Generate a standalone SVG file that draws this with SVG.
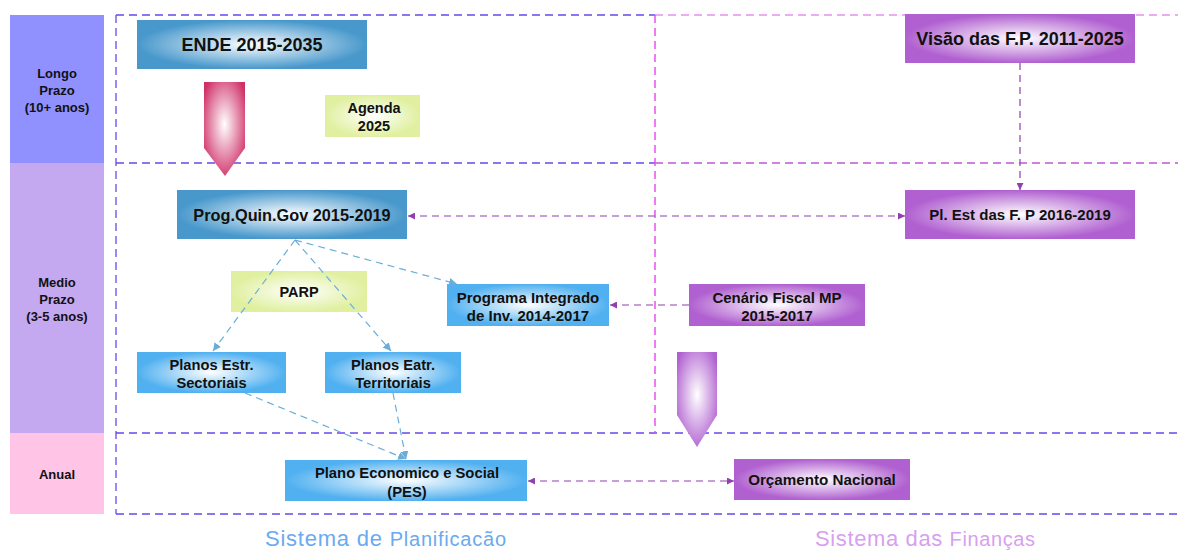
<svg xmlns="http://www.w3.org/2000/svg" width="1179" height="551" viewBox="0 0 1179 551">
<style>
.lbl{font-family:"Liberation Sans",Arial,sans-serif;font-weight:bold;fill:#111;text-anchor:middle}
.frame{fill:none;stroke:#6a48e8;stroke-width:1.3;stroke-dasharray:8 5}
.frameP{fill:none;stroke:#e890f0;stroke-width:1.3;stroke-dasharray:8 5}
.frameM{fill:none;stroke:#c058d8;stroke-width:1.3;stroke-dasharray:8 5}
.frameV{fill:none;stroke:#e850f0;stroke-width:1.5;stroke-dasharray:8 5}
.cb{fill:none;stroke:#6aaed8;stroke-width:1.2;stroke-dasharray:7 5}
.cp{fill:none;stroke:#9040b0;stroke-width:1.2;stroke-dasharray:7 5}
.cap{font-family:"Liberation Sans",Arial,sans-serif}
</style>
<defs>
<radialGradient id="gBlueD" cx="0.5" cy="0.5" r="0.5"><stop offset="0" stop-color="#ffffff"/><stop offset="1" stop-color="#4898cc"/></radialGradient>
<radialGradient id="gBlueL" cx="0.5" cy="0.5" r="0.5"><stop offset="0" stop-color="#ffffff"/><stop offset="1" stop-color="#50b0f0"/></radialGradient>
<radialGradient id="gPur" cx="0.5" cy="0.5" r="0.5"><stop offset="0" stop-color="#ffffff"/><stop offset="1" stop-color="#b060d0"/></radialGradient>
<radialGradient id="gGreen" cx="0.5" cy="0.5" r="0.5"><stop offset="0" stop-color="#ffffff"/><stop offset="1" stop-color="#e0f0a0"/></radialGradient>
<radialGradient id="gPink" cx="0.5" cy="0.45" r="0.6"><stop offset="0" stop-color="#ffffff"/><stop offset="1" stop-color="#d03068"/></radialGradient>
<radialGradient id="gPurA" cx="0.5" cy="0.45" r="0.6"><stop offset="0" stop-color="#ffffff"/><stop offset="1" stop-color="#b060d0"/></radialGradient>
<marker id="ab" viewBox="0 0 10 10" refX="10" refY="5" markerWidth="8" markerHeight="8" markerUnits="userSpaceOnUse" orient="auto-start-reverse"><path d="M0,0 L10,5 L0,10 z" fill="#6aaed8"/></marker>
<marker id="ap" viewBox="0 0 10 10" refX="10" refY="5" markerWidth="7" markerHeight="7" markerUnits="userSpaceOnUse" orient="auto-start-reverse"><path d="M0,0 L10,5 L0,10 z" fill="#9040b0"/></marker>
</defs>

<g id="lanes">
<rect x="10" y="15" width="94" height="148" fill="#9090ff"/>
<rect x="10" y="163" width="94" height="270" fill="#c4a8f0"/>
<rect x="10" y="433" width="94" height="81" fill="#ffc4e6"/>
<text class="lbl" font-size="13"><tspan x="57" y="78">Longo</tspan><tspan x="57" y="95">Prazo</tspan><tspan x="57" y="112">(10+ anos)</tspan></text>
<text class="lbl" font-size="13"><tspan x="57" y="287">Medio</tspan><tspan x="57" y="304">Prazo</tspan><tspan x="57" y="321">(3-5 anos)</tspan></text>
<text class="lbl" font-size="13" x="57" y="479">Anual</text>
</g>

<g id="frame">
<path class="frame" d="M116,15 V514 M116,15 H655 M116,163 H655 M116,433 H1178 M116,514 H1178"/>
<path class="frameP" d="M655,15 H1178"/>
<path class="frameM" d="M655,163 H1178"/>
<path class="frameV" d="M655,15 V433"/>
</g>

<g id="ende"><rect x="137" y="20" width="230" height="49" fill="url(#gBlueD)"/><text class="lbl" font-size="18" x="252" y="51">ENDE 2015-2035</text></g>
<g id="arrow-pink"><path d="M204,82 H245 V148 L225,176 L204,148 Z" fill="url(#gPink)"/></g>
<g id="agenda"><rect x="325" y="95" width="95" height="42" fill="url(#gGreen)"/><text class="lbl" font-size="14.5"><tspan x="374" y="113">Agenda</tspan><tspan x="374" y="131">2025</tspan></text></g>
<g id="progquin"><rect x="177" y="190" width="230" height="49" fill="url(#gBlueD)"/><text class="lbl" font-size="16.3" x="292" y="220.5">Prog.Quin.Gov 2015-2019</text></g>
<g id="parp"><rect x="231" y="271" width="136" height="41" fill="url(#gGreen)"/><text class="lbl" font-size="14.5" x="299" y="296.5">PARP</text></g>
<g id="programa"><rect x="447" y="284" width="162" height="42" fill="url(#gBlueL)"/><text class="lbl" font-size="15"><tspan x="528" y="302.5">Programa Integrado</tspan><tspan x="528" y="320.5">de Inv. 2014-2017</tspan></text></g>
<g id="cenario"><rect x="689" y="284" width="176" height="42" fill="url(#gPur)"/><text class="lbl" font-size="15"><tspan x="777" y="302.5">Cenário Fiscal MP</tspan><tspan x="777" y="320.5">2015-2017</tspan></text></g>
<g id="sectoriais"><rect x="137" y="352" width="149" height="41" fill="url(#gBlueL)"/><text class="lbl" font-size="14.7"><tspan x="211.5" y="369.5">Planos Estr.</tspan><tspan x="211.5" y="387.5">Sectoriais</tspan></text></g>
<g id="territoriais"><rect x="325" y="352" width="136" height="41" fill="url(#gBlueL)"/><text class="lbl" font-size="14.7"><tspan x="393" y="369.5">Planos Eatr.</tspan><tspan x="393" y="387.5">Territoriais</tspan></text></g>
<g id="pes"><rect x="285" y="460" width="242" height="41" fill="url(#gBlueL)"/><text class="lbl" font-size="14.8"><tspan x="407" y="477.5">Plano Economico e Social</tspan><tspan x="407" y="496.5">(PES)</tspan></text></g>
<g id="orcamento"><rect x="734" y="459" width="176" height="41" fill="url(#gPur)"/><text class="lbl" font-size="15.2" x="822" y="485">Orçamento Nacional</text></g>
<g id="visao"><rect x="905" y="14" width="230" height="49" fill="url(#gPur)"/><text class="lbl" font-size="18" x="1020" y="45">Visão das F.P. 2011-2025</text></g>
<g id="plest"><rect x="905" y="190" width="230" height="49" fill="url(#gPur)"/><text class="lbl" font-size="15" x="1020" y="220">Pl. Est das F. P 2016-2019</text></g>
<g id="arrow-purple"><path d="M677,352 H717 V415 L697,447 L677,415 Z" fill="url(#gPurA)"/></g>

<g id="connectors">
<path class="cb" d="M295,240 L213,351" marker-end="url(#ab)"/>
<path class="cb" d="M295,240 L391,351" marker-end="url(#ab)"/>
<path class="cb" d="M295,240 L457,284" marker-end="url(#ab)"/>
<path class="cb" d="M245,393 L406,459" marker-end="url(#ab)"/>
<path class="cb" d="M393,393 L406,459" marker-end="url(#ab)"/>
<path class="cp" d="M408,216 H905" marker-start="url(#ap)" marker-end="url(#ap)"/>
<path class="cp" d="M1020,63 V190" marker-end="url(#ap)"/>
<path class="cp" d="M689,305 H610" marker-end="url(#ap)"/>
<path class="cp" d="M528,481 H734" marker-start="url(#ap)" marker-end="url(#ap)"/>
</g>

<g id="captions">
<text class="cap" x="265" y="546" fill="#6aaaf0" font-size="22" textLength="241" lengthAdjust="spacing">Sistema de <tspan font-size="20">Planificacão</tspan></text>
<text class="cap" x="815" y="546" fill="#d8a0f0" font-size="22" textLength="220" lengthAdjust="spacing">Sistema das <tspan font-size="20">Finanças</tspan></text>
</g>
</svg>
